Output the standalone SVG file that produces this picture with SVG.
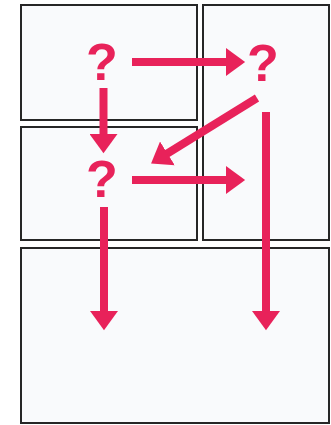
<svg xmlns="http://www.w3.org/2000/svg" width="331" height="425" viewBox="0 0 331 425">
  <style>
    .panel { fill: #f9fafc; stroke: #262626; stroke-width: 2; }
    .q { font-family: "Liberation Sans", Arial, sans-serif; font-weight: bold; font-size: 52px; fill: #e8225a; text-anchor: middle; }
    .conn { stroke: #e8225a; stroke-width: 8; fill: none; stroke-linecap: butt; }
  </style>
  <defs>
    <marker id="ah" markerUnits="userSpaceOnUse" markerWidth="20" markerHeight="28" refX="1" refY="13.5" orient="auto" viewBox="0 0 19 27">
      <path d="M0,0 L18.5,13.5 L0,27 Z" fill="#e8225a"/>
    </marker>
  </defs>
  <rect width="331" height="425" fill="#ffffff"/>
  <g id="panel-top-left"><rect class="panel" x="21" y="5" width="176" height="115"/></g>
  <g id="panel-right"><rect class="panel" x="203" y="5" width="126" height="235"/></g>
  <g id="panel-mid-left"><rect class="panel" x="21" y="127" width="176" height="113"/></g>
  <g id="panel-bottom"><rect class="panel" x="21" y="248" width="308" height="175"/></g>
  <g id="q1"><text class="q" x="102" y="80">?</text></g>
  <g id="q2"><text class="q" x="263" y="81">?</text></g>
  <g id="q3"><text class="q" x="102" y="197">?</text></g>
  <g id="connectors">
    <line class="conn" x1="132" y1="62" x2="227" y2="62" marker-end="url(#ah)"/>
    <line class="conn" x1="103.5" y1="88" x2="103.5" y2="135" marker-end="url(#ah)"/>
    <line class="conn" x1="257" y1="98" x2="166.5" y2="154" marker-end="url(#ah)"/>
    <line class="conn" x1="132" y1="180" x2="227" y2="180" marker-end="url(#ah)"/>
    <line class="conn" x1="104" y1="207" x2="104" y2="312" marker-end="url(#ah)"/>
    <line class="conn" x1="266" y1="112" x2="266" y2="312" marker-end="url(#ah)"/>
  </g>
</svg>
